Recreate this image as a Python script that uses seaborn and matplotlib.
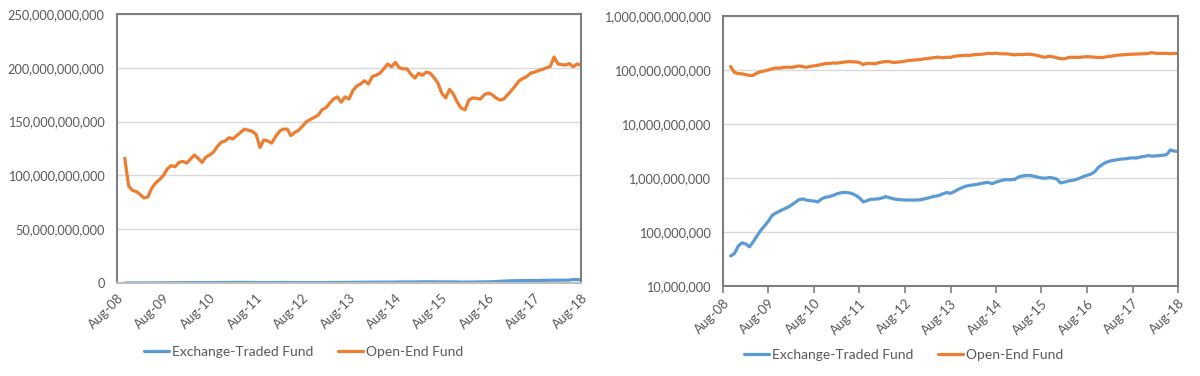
import pandas as pd
import numpy as np
import matplotlib
matplotlib.use('Agg')
import matplotlib.pyplot as plt
import matplotlib.dates as mdates
from matplotlib.ticker import FuncFormatter, FixedLocator, NullLocator
import seaborn as sns

# monthly observations, Oct-08 .. Aug-18
months = pd.date_range('2008-10-01', '2018-08-01', freq='MS')

# Open-End Fund assets, billions
open_end_bn = [
    116, 90, 86, 85, 82, 79, 80, 88, 93, 96, 100,
    106, 109, 108, 112, 113, 111.5, 115, 119, 116, 112, 117, 119,
    122, 127, 131, 132, 135, 134, 137, 140, 143, 142, 141, 138,
    126, 133, 132, 130, 136, 141, 143, 143, 137, 140, 142, 146,
    150, 152, 154, 156, 161, 163, 167, 171, 173, 168, 173, 171,
    179, 183, 185, 188, 185, 192, 193, 195, 199, 203.5, 201, 205,
    200, 199, 199, 194, 190.5, 195, 193, 196, 195, 191, 186, 176.5,
    172, 180, 175.5, 168, 162.5, 161, 170, 172, 171.5, 171, 175, 176.5,
    175, 172, 170, 171, 175, 179, 183, 188, 190, 192, 195, 196,
    197.5, 198.5, 200, 201, 210, 203.5, 203, 202.5, 204, 201, 203.5, 202.5,
]

# Exchange-Traded Fund assets, millions
etf_mn = [
    36, 40, 55, 63, 60, 53, 66, 85, 108, 130, 160,
    205, 225, 245, 265, 285, 315, 350, 395, 410, 390, 380, 375,
    360, 410, 440, 450, 475, 510, 530, 540, 535, 515, 480, 430,
    360, 380, 405, 405, 410, 430, 450, 430, 410, 400, 395, 392,
    390, 390, 392, 394, 410, 425, 445, 460, 475, 510, 540, 520,
    560, 615, 660, 705, 730, 745, 760, 790, 815, 825, 785, 840,
    880, 920, 930, 930, 950, 1050, 1090, 1110, 1110, 1080, 1040, 1000,
    990, 1020, 1000, 960, 810, 840, 875, 900, 930, 990, 1060, 1120,
    1180, 1300, 1580, 1780, 1950, 2060, 2120, 2180, 2240, 2260, 2320, 2360,
    2340, 2440, 2500, 2600, 2550, 2560, 2600, 2640, 2700, 3300, 3150, 3100,
]

series_names = ['Exchange-Traded Fund', 'Open-End Fund']
colors = ['#5B9BD5', '#ED7D31']

df = pd.concat([
    pd.DataFrame({'date': months, 'assets': np.array(etf_mn) * 1e6, 'fund': series_names[0]}),
    pd.DataFrame({'date': months, 'assets': np.array(open_end_bn) * 1e9, 'fund': series_names[1]}),
])

sns.set_style('white')
plt.rcParams['font.family'] = ['Lato', 'DejaVu Sans']

fig = plt.figure(figsize=(12, 3.76), dpi=100)
ax1 = fig.add_axes([117 / 1200, 1 - 283 / 376, (581 - 117) / 1200, (283 - 14) / 376])
ax2 = fig.add_axes([723 / 1200, 1 - 286 / 376, (1178 - 723) / 1200, (286 - 16) / 376])

tick_dates = pd.date_range('2008-08-01', '2018-08-01', freq='12MS')
comma = FuncFormatter(lambda v, p: f'{v:,.0f}')
text_color = '#595959'

for ax in (ax1, ax2):
    sns.lineplot(data=df, x='date', y='assets', hue='fund', palette=colors,
                 hue_order=series_names, linewidth=2.3, legend=False, ax=ax)
    ax.set_xlim(tick_dates[0], tick_dates[-1])
    ax.xaxis.set_major_locator(FixedLocator(mdates.date2num(tick_dates)))
    ax.xaxis.set_major_formatter(mdates.DateFormatter('%b-%y'))
    ax.set_xlabel('')
    ax.set_ylabel('')
    ax.grid(axis='y', color='#d9d9d9', linewidth=1)
    ax.set_axisbelow(True)
    for s in ax.spines.values():
        s.set_color('#7f7f7f')
        s.set_linewidth(1.5)
    ax.tick_params(axis='y', length=0, labelsize=9.2, labelcolor=text_color, pad=9)
    ax.tick_params(axis='x', labelsize=9.5, labelcolor=text_color, pad=3)
    for lbl in ax.get_xticklabels():
        lbl.set_rotation(45)
        lbl.set_ha('right')
        lbl.set_rotation_mode('anchor')
    ax.yaxis.set_major_formatter(comma)

ax1.set_ylim(0, 250e9)
ax1.set_yticks(np.arange(0, 251e9, 50e9))
ax1.tick_params(axis='x', length=0, pad=6)
ax1.spines['bottom'].set_color('#bfbfbf')

ax2.set_yscale('log')
ax2.set_ylim(1e7, 1e12)
ax2.yaxis.set_major_locator(FixedLocator([1e7, 1e8, 1e9, 1e10, 1e11, 1e12]))
ax2.yaxis.set_minor_locator(NullLocator())
ax2.yaxis.set_major_formatter(comma)
ax2.tick_params(axis='x', length=5, width=1.2, color='#7f7f7f', direction='out', bottom=True)

for cx, cy in ((0.253, 0.064), (0.753, 0.056)):
    handles = [plt.Line2D([], [], color=c, linewidth=2.3) for c in colors]
    fig.legend(handles, series_names, loc='center', bbox_to_anchor=(cx, cy), ncol=2,
               frameon=False, fontsize=10, handlelength=1.8, handletextpad=0.2,
               columnspacing=1.8, labelcolor=text_color)

fig.savefig('out.png', dpi=100)
